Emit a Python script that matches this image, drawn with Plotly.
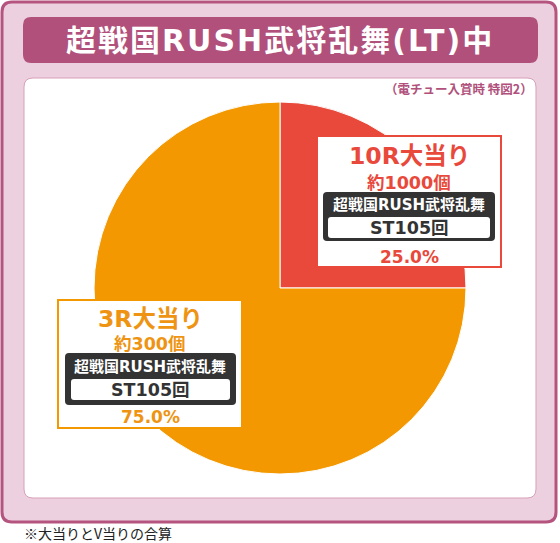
import plotly.graph_objects as go

W, H = 560, 543

# ---- data ----
title = "超戦国RUSH武将乱舞(LT)中"
subtitle = "（電チュー入賞時 特図2）"
footnote = "※大当りとV当りの合算"
categories = ["10R大当り", "3R大当り"]
shares = [25.0, 75.0]
payouts = ["約1000個", "約300個"]
modes = ["超戦国RUSH武将乱舞", "超戦国RUSH武将乱舞"]
st_counts = ["ST105回", "ST105回"]
colors = ["#e8493b", "#f39800"]
text_colors = ["#e8493b", "#ee9412"]

FONT = "DejaVu Sans, Noto Sans CJK JP, sans-serif"
FONT_CJK = "Noto Sans CJK JP, sans-serif"


def px(x):
    return x / W


def py(y):
    return 1 - y / H


def rrect(x0, y0, x1, y1, r):
    P = lambda x, y: f"{px(x):.5f},{py(y):.5f}"
    pts = [
        f"M {P(x0 + r, y0)}", f"L {P(x1 - r, y0)}", f"Q {P(x1, y0)} {P(x1, y0 + r)}",
        f"L {P(x1, y1 - r)}", f"Q {P(x1, y1)} {P(x1 - r, y1)}", f"L {P(x0 + r, y1)}",
        f"Q {P(x0, y1)} {P(x0, y1 - r)}", f"L {P(x0, y0 + r)}",
        f"Q {P(x0, y0)} {P(x0 + r, y0)} Z",
    ]
    return " ".join(pts)


shapes = []


def add_rr(x0, y0, x1, y1, r, fill, line=None, lw=0, layer="below"):
    shapes.append(dict(
        type="path", path=rrect(x0, y0, x1, y1, r), xref="paper", yref="paper",
        fillcolor=fill, line=dict(color=line or fill, width=lw), layer=layer))


# background frame
add_rr(2, 2, 556, 522, 10, "#ecd0df", "#b5557f", 3)
add_rr(23, 17, 538, 63, 8, "#b0507b")
add_rr(24, 78, 536, 498, 9, "#ffffff", "#d7a0b8", 1)

# pie geometry (pixels)
cx, cy, R = 280, 288, 186

fig = go.Figure(go.Pie(
    labels=categories, values=shares, sort=False, direction="clockwise",
    rotation=0, marker=dict(colors=colors, line=dict(color="#ffffff", width=1)),
    textinfo="none", hoverinfo="none", showlegend=False,
    domain=dict(x=[px(cx - R), px(cx + R)], y=[py(cy + R), py(cy - R)]),
))

annotations = []


def txt(x, y, s, size, color, bold=True, xanchor="center", family=FONT, spacing=None):
    t = f"<b>{s}</b>" if bold else s
    if spacing is not None:
        t = f'<span style="letter-spacing:{spacing}px">{t}</span>'
    annotations.append(dict(
        x=px(x), y=py(y), xref="paper", yref="paper", text=t,
        showarrow=False, xanchor=xanchor, yanchor="middle",
        font=dict(family=family, size=size, color=color)))


# label boxes
boxes = [
    dict(x0=317, y0=136, x1=501, y1=267, ty=[156, 183, 205, 228, 257],
         dk=(323, 192, 495, 241), wt=(328, 217, 490, 238)),
    dict(x0=58, y0=300, x1=242, y1=428, ty=[319, 344, 367, 390, 417],
         dk=(65, 353, 236, 405), wt=(71, 379, 230, 400)),
]
for i, b in enumerate(boxes):
    add_rr(b["x0"], b["y0"], b["x1"], b["y1"], 0, "#ffffff", colors[i], 2, layer="above")
    add_rr(*b["dk"], 4, "#333333", layer="above")
    add_rr(*b["wt"], 3, "#ffffff", layer="above")
    mx = (b["x0"] + b["x1"]) / 2
    txt(mx, b["ty"][0], categories[i], 23.5, text_colors[i])
    txt(mx, b["ty"][1], payouts[i], 17.5, text_colors[i])
    txt(mx, b["ty"][2], modes[i], 15, "#ffffff")
    txt(mx, b["ty"][3], st_counts[i], 17.5, "#333333")
    txt(mx, b["ty"][4], f"{shares[i]:.1f}%", 17, text_colors[i])

txt(280, 40, title, 30, "#ffffff", spacing=2)
txt(535, 88, subtitle, 12.5, "#b0507b", xanchor="right", family=FONT_CJK)
txt(22, 533, footnote, 14, "#222222", bold=False, xanchor="left", family=FONT_CJK)

fig.update_layout(
    width=W, height=H, margin=dict(l=0, r=0, t=0, b=0),
    paper_bgcolor="#ffffff", plot_bgcolor="#ffffff",
    shapes=shapes, annotations=annotations,
)
fig.write_html("out.html", config={"displayModeBar": False},
               post_script="document.body.style.margin='0';")
